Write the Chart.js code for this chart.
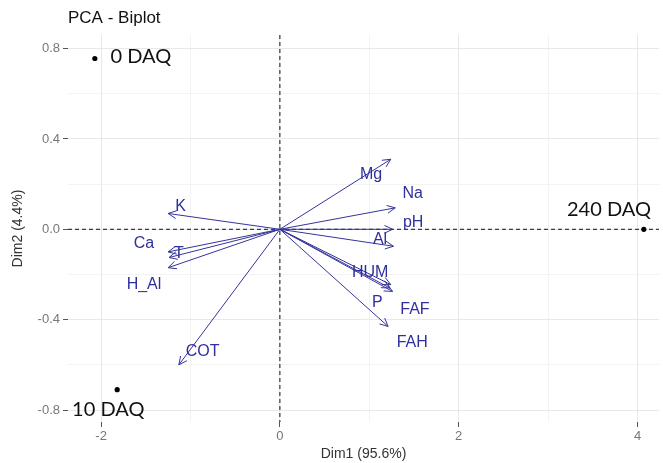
<!DOCTYPE html>
<html>
<head>
<meta charset="utf-8">
<script src="https://cdn.jsdelivr.net/npm/chart.js@4.4.1/dist/chart.umd.min.js"></script>
<style>
  html, body { margin: 0; padding: 0; background: #fff; }
</style>
</head>
<body>
<canvas id="chart" width="663" height="463"></canvas>
<script>
// variables (arrows)
const varNames = ['K', 'Ca', 'T', 'H_Al', 'COT', 'Mg', 'Na', 'pH', 'Al', 'HUM', 'P', 'FAF', 'FAH'];
const varDim1 = [-1.25, -1.25, -1.24, -1.25, -1.13, 1.24, 1.29, 1.26, 1.27, 1.24, 1.23, 1.26, 1.21];
const varDim2 = [0.07, -0.10, -0.125, -0.17, -0.60, 0.31, 0.095, 0.0, -0.075, -0.245, -0.26, -0.275, -0.43];
// where the variable labels sit
const varLabelX = [-1.11, -1.52, -1.13, -1.52, -0.865, 1.02, 1.485, 1.49, 1.12, 1.01, 1.09, 1.51, 1.48];
const varLabelY = [0.10, -0.062, -0.107, -0.245, -0.542, 0.244, 0.156, 0.03, -0.044, -0.19, -0.324, -0.356, -0.50];

// individuals (points)
const indNames = ['0 DAQ', '10 DAQ', '240 DAQ'];
const indDim1 = [-2.07, -1.82, 4.07];
const indDim2 = [0.756, -0.71, 0.0];
const indLabelX = [-1.556, -1.92, 3.68];
const indLabelY = [0.764, -0.80, 0.089];

const arrowColor = '#34349a';
const labelColor = '#2f2f9e';

const datasets = varNames.map((name, i) => ({
    label: name,
    data: [{x: 0, y: 0}, {x: varDim1[i], y: varDim2[i]}],
    showLine: true,
    borderColor: arrowColor,
    borderWidth: 1,
    pointRadius: 0
}));
datasets.push({
    label: 'ind',
    data: indNames.map((n, i) => ({x: indDim1[i], y: indDim2[i]})),
    backgroundColor: '#000',
    borderColor: '#000',
    pointRadius: 2.6,
    pointBorderWidth: 0
});

const biplotExtras = {
    id: 'biplotExtras',
    beforeDatasetsDraw(chart) {
        const {ctx, chartArea: a, scales: {x, y}} = chart;
        ctx.save();
        ctx.strokeStyle = '#111';
        ctx.lineWidth = 1;
        ctx.setLineDash([4, 3]);
        const x0 = x.getPixelForValue(0), y0 = y.getPixelForValue(0);
        ctx.beginPath();
        ctx.moveTo(a.left, y0); ctx.lineTo(a.right, y0);
        ctx.moveTo(x0, a.top); ctx.lineTo(x0, a.bottom);
        ctx.stroke();
        ctx.restore();
    },
    afterDatasetsDraw(chart) {
        const {ctx, chartArea: a, scales: {x, y}} = chart;
        ctx.save();
        // arrow heads
        ctx.strokeStyle = arrowColor;
        ctx.lineWidth = 1;
        const ox = x.getPixelForValue(0), oy = y.getPixelForValue(0);
        varNames.forEach((n, i) => {
            const px = x.getPixelForValue(varDim1[i]), py = y.getPixelForValue(varDim2[i]);
            const ang = Math.atan2(py - oy, px - ox);
            const len = 9, spread = 0.45;
            ctx.beginPath();
            ctx.moveTo(px - len * Math.cos(ang - spread), py - len * Math.sin(ang - spread));
            ctx.lineTo(px, py);
            ctx.lineTo(px - len * Math.cos(ang + spread), py - len * Math.sin(ang + spread));
            ctx.stroke();
        });
        // variable labels
        ctx.fillStyle = labelColor;
        ctx.font = '16px "Liberation Sans", Arial, sans-serif';
        ctx.textAlign = 'center';
        ctx.textBaseline = 'middle';
        varNames.forEach((n, i) => {
            ctx.fillText(n, x.getPixelForValue(varLabelX[i]), y.getPixelForValue(varLabelY[i]));
        });
        // individual labels
        ctx.fillStyle = '#111';
        ctx.font = '20px Lato, "Open Sans", sans-serif';
        indNames.forEach((n, i) => {
            ctx.fillText(n, x.getPixelForValue(indLabelX[i]), y.getPixelForValue(indLabelY[i]));
        });
        // title
        ctx.fillStyle = '#111';
        ctx.font = '17px "Liberation Sans", Arial, sans-serif';
        ctx.textAlign = 'left';
        ctx.fillText('PCA - Biplot', a.left, 18);
        ctx.restore();
    }
};

const isMajorX = v => Math.round(v) % 2 === 0;
const isMajorY = v => Math.round(v * 10) % 4 === 0;

new Chart(document.getElementById('chart'), {
    type: 'scatter',
    data: {datasets: datasets},
    options: {
        responsive: false,
        animation: false,
        layout: {padding: {top: 35, right: 0, left: 0, bottom: 0}},
        plugins: {legend: {display: false}, tooltip: {enabled: false}},
        scales: {
            x: {
                type: 'linear',
                min: -2.37,
                max: 4.24,
                afterFit: s => { s.height = 41; },
                border: {display: false},
                grid: {
                    color: ctx => isMajorX(ctx.tick.value) ? '#e8e8e8' : '#f3f3f3',
                    tickColor: ctx => isMajorX(ctx.tick.value) ? '#555' : 'rgba(0,0,0,0)',
                    tickLength: 5
                },
                ticks: {
                    stepSize: 1,
                    includeBounds: false,
                    autoSkip: false,
                    maxRotation: 0,
                    padding: 2,
                    color: '#777',
                    font: {family: '"Liberation Sans", Arial, sans-serif', size: 13},
                    callback: v => isMajorX(v) ? String(Math.round(v)) : ''
                },
                title: {
                    display: true,
                    text: 'Dim1 (95.6%)',
                    color: '#333',
                    padding: {top: 0, bottom: 0},
                    font: {family: '"Liberation Sans", Arial, sans-serif', size: 14}
                }
            },
            y: {
                type: 'linear',
                min: -0.853,
                max: 0.86,
                afterFit: s => { s.width = 68; },
                border: {display: false},
                grid: {
                    color: ctx => isMajorY(ctx.tick.value) ? '#e8e8e8' : '#f3f3f3',
                    tickColor: ctx => isMajorY(ctx.tick.value) ? '#555' : 'rgba(0,0,0,0)',
                    tickLength: 5
                },
                ticks: {
                    stepSize: 0.2,
                    includeBounds: false,
                    autoSkip: false,
                    padding: 3,
                    color: '#777',
                    font: {family: '"Liberation Sans", Arial, sans-serif', size: 13},
                    callback: v => isMajorY(v) ? (Math.round(v * 10) / 10).toFixed(1) : ''
                },
                title: {
                    display: true,
                    text: 'Dim2 (4.4%)',
                    color: '#333',
                    padding: {top: 10, bottom: 0},
                    font: {family: '"Liberation Sans", Arial, sans-serif', size: 14}
                }
            }
        }
    },
    plugins: [biplotExtras]
});
</script>
</body>
</html>
